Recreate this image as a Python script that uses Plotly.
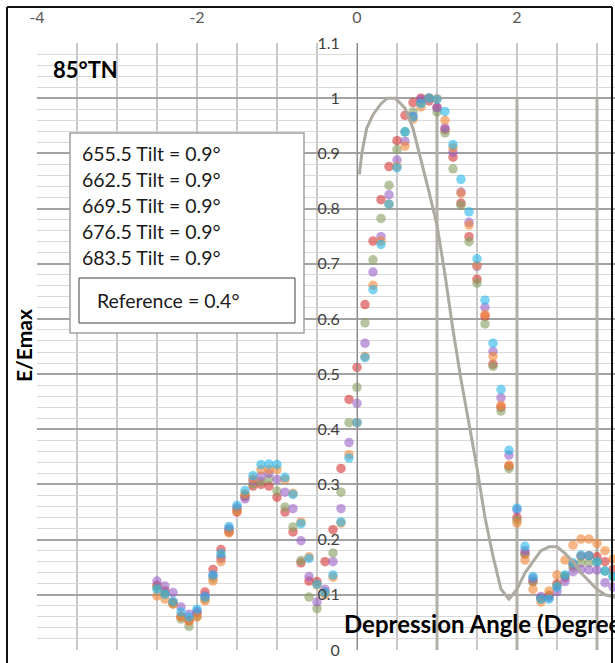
import plotly.graph_objects as go

# Depression angle (degrees) at which each tilt series was sampled
depression_deg = [-2.5, -2.4, -2.3, -2.2, -2.1, -2.0, -1.9, -1.8, -1.7, -1.6,
                  -1.5, -1.4, -1.3, -1.2, -1.1, -1.0, -0.9, -0.8, -0.7, -0.6,
                  -0.5, -0.4, -0.3, -0.2, -0.1, 0.0, 0.1, 0.2, 0.3, 0.4,
                  0.5, 0.6, 0.7, 0.8, 0.9, 1.0, 1.1, 1.2, 1.3, 1.4,
                  1.5, 1.6, 1.7, 1.8, 1.9, 2.0, 2.1, 2.2, 2.3, 2.4,
                  2.5, 2.6, 2.7, 2.8, 2.9, 3.0, 3.1, 3.2]

# Normalised field E/Emax for each frequency (tilt = 0.9 deg)
e_655 = [0.117, 0.107, 0.086, 0.061, 0.053, 0.067, 0.105, 0.146, 0.182, 0.214,
         0.250, 0.278, 0.297, 0.300, 0.297, 0.277, 0.250, 0.214, 0.158, 0.125,
         0.124, 0.160, 0.218, 0.329, 0.454, 0.512, 0.626, 0.741, 0.816, 0.876,
         0.923, 0.969, 0.992, 1.000, 0.995, 0.983, 0.943, 0.893, 0.810, 0.749,
         0.672, 0.605, 0.518, 0.440, 0.333, 0.240, 0.174, 0.124, 0.094, 0.099,
         0.120, 0.131, 0.155, 0.170, 0.171, 0.169, 0.160, 0.146]
e_662 = [0.113, 0.103, 0.084, 0.056, 0.043, 0.061, 0.092, 0.130, 0.170, 0.218,
         0.255, 0.280, 0.301, 0.305, 0.310, 0.288, 0.259, 0.223, 0.162, 0.096,
         0.075, 0.105, 0.176, 0.286, 0.412, 0.476, 0.593, 0.707, 0.782, 0.842,
         0.907, 0.939, 0.975, 0.992, 1.000, 0.975, 0.937, 0.872, 0.806, 0.740,
         0.665, 0.591, 0.514, 0.433, 0.329, 0.235, 0.174, 0.124, 0.094, 0.098,
         0.116, 0.134, 0.150, 0.158, 0.158, 0.159, 0.143, 0.133]
e_669 = [0.125, 0.116, 0.104, 0.078, 0.065, 0.070, 0.098, 0.135, 0.166, 0.220,
         0.258, 0.274, 0.307, 0.315, 0.320, 0.309, 0.286, 0.256, 0.198, 0.133,
         0.087, 0.110, 0.160, 0.256, 0.376, 0.447, 0.556, 0.685, 0.749, 0.825,
         0.888, 0.922, 0.967, 0.998, 1.000, 0.983, 0.946, 0.902, 0.830, 0.775,
         0.695, 0.621, 0.541, 0.457, 0.353, 0.254, 0.180, 0.130, 0.097, 0.095,
         0.106, 0.124, 0.142, 0.146, 0.145, 0.145, 0.122, 0.114]
e_676 = [0.098, 0.092, 0.083, 0.060, 0.052, 0.060, 0.089, 0.125, 0.160, 0.212,
         0.252, 0.283, 0.310, 0.327, 0.327, 0.327, 0.309, 0.284, 0.232, 0.169,
         0.118, 0.100, 0.132, 0.230, 0.354, 0.412, 0.532, 0.661, 0.741, 0.808,
         0.876, 0.913, 0.962, 0.984, 1.000, 0.999, 0.960, 0.910, 0.828, 0.770,
         0.697, 0.608, 0.532, 0.443, 0.335, 0.230, 0.163, 0.110, 0.087, 0.107,
         0.136, 0.163, 0.190, 0.201, 0.201, 0.193, 0.180, 0.165]
e_683 = [0.110, 0.101, 0.088, 0.069, 0.060, 0.074, 0.096, 0.136, 0.175, 0.224,
         0.262, 0.289, 0.316, 0.336, 0.337, 0.336, 0.313, 0.282, 0.229, 0.166,
         0.119, 0.104, 0.136, 0.232, 0.348, 0.412, 0.530, 0.653, 0.735, 0.808,
         0.874, 0.939, 0.966, 0.990, 1.000, 0.998, 0.976, 0.916, 0.853, 0.794,
         0.709, 0.634, 0.556, 0.472, 0.362, 0.257, 0.188, 0.133, 0.092, 0.092,
         0.114, 0.136, 0.158, 0.172, 0.171, 0.160, 0.143, 0.133]

series_names = ["655.5 Tilt = 0.9°", "662.5 Tilt = 0.9°", "669.5 Tilt = 0.9°",
                "676.5 Tilt = 0.9°", "683.5 Tilt = 0.9°"]
series_values = [e_655, e_662, e_669, e_676, e_683]
series_colors = ["#D63434", "#869E60", "#9A5FC7", "#F28633", "#24B6EA"]

# Reference pattern (tilt 0.4 deg)
ref_deg = [0.03, 0.06, 0.12, 0.2, 0.3, 0.38, 0.48, 0.6, 0.7, 0.8, 0.9, 1.0,
           1.1, 1.2, 1.3, 1.4, 1.5, 1.6, 1.7, 1.8, 1.9, 2.0, 2.1, 2.2, 2.3,
           2.4, 2.5, 2.6, 2.7, 2.8, 2.9, 3.0, 3.1, 3.25]
ref_e = [0.862, 0.900, 0.945, 0.970, 0.990, 1.000, 1.000, 0.982, 0.945, 0.890,
         0.830, 0.770, 0.680, 0.580, 0.490, 0.410, 0.330, 0.240, 0.170, 0.110,
         0.092, 0.110, 0.140, 0.160, 0.180, 0.187, 0.187, 0.175, 0.160, 0.140,
         0.125, 0.110, 0.100, 0.095]
ref_name = "Reference = 0.4°"
ref_grid_deg = [1, 2, 3]

x_tick_vals = [-4, -2, 0, 2]
x_tick_text = ["-4", "-2", "0", "2"]

title_text = "85°TN"
x_title = "Depression Angle (Degrees)"
y_title = "E/Emax"

X_MIN, X_MAX = -4.0, 3.225
Y_MIN, Y_MAX = 0.0, 1.1

W, H = 615, 663
L, R, T, B = 37, 615, 43, 650      # plot area in page pixels
FONT = "Lato"


def px(xp):
    return (xp - L) / (R - L)


def py(yp):
    return (B - yp) / (B - T)


fig = go.Figure()

for name, vals, col in zip(series_names, series_values, series_colors):
    fig.add_trace(go.Scatter(
        x=depression_deg, y=vals, mode="markers", name=name,
        marker=dict(size=9.5, color=col, opacity=0.6, line=dict(width=0)),
        showlegend=False))

fig.add_trace(go.Scatter(
    x=ref_deg, y=ref_e, mode="lines", name=ref_name,
    line=dict(color="#ADAAA1", width=3), showlegend=False))

shapes = []
# heavier grid of the reference pattern
for gx in ref_grid_deg:
    shapes.append(dict(type="line", xref="x", yref="y", x0=gx, x1=gx, y0=0, y1=1.0,
                       line=dict(color="#B3B0A8", width=3), layer="between"))

# white label box behind the title tag
shapes.append(dict(type="rect", xref="paper", yref="paper",
                   x0=px(38), x1=px(133), y0=py(89), y1=py(47),
                   fillcolor="white", line=dict(width=0), layer="between"))

# legend panel
shapes.append(dict(type="rect", xref="paper", yref="paper",
                   x0=px(70), x1=px(304), y0=py(333), y1=py(133),
                   fillcolor="white", line=dict(color="#A0A0A0", width=1.5),
                   layer="above"))
shapes.append(dict(type="rect", xref="paper", yref="paper",
                   x0=px(79), x1=px(295), y0=py(323), y1=py(278),
                   fillcolor="white", line=dict(color="#404040", width=1),
                   layer="above"))

# outer frame
frame = dict(color="#111111", width=2)
shapes.append(dict(type="line", xref="paper", yref="paper",
                   x0=px(7), x1=px(7), y0=py(7), y1=py(670), line=frame, layer="above"))
shapes.append(dict(type="line", xref="paper", yref="paper",
                   x0=px(7), x1=px(612), y0=py(7), y1=py(7), line=frame, layer="above"))
shapes.append(dict(type="line", xref="paper", yref="paper",
                   x0=px(612), x1=px(612), y0=py(7), y1=py(670), line=frame, layer="above"))

annotations = []
annotations.append(dict(text=f"<b>{title_text}</b>", xref="paper", yref="paper",
                        x=px(51), y=py(69), xanchor="left", yanchor="middle",
                        showarrow=False, font=dict(family=FONT, size=22, color="#000000")))

line_y = [153, 179, 205, 231, 257]
for name, yp in zip(series_names, line_y):
    annotations.append(dict(text=name, xref="paper", yref="paper",
                            x=px(80), y=py(yp), xanchor="left", yanchor="middle",
                            showarrow=False,
                            font=dict(family=FONT, size=19.5, color="#1A1A1A")))
annotations.append(dict(text=ref_name, xref="paper", yref="paper",
                        x=px(95), y=py(300), xanchor="left", yanchor="middle",
                        showarrow=False,
                        font=dict(family=FONT, size=19.5, color="#1A1A1A")))

annotations.append(dict(text=f"<b>{y_title}</b>", xref="paper", yref="paper",
                        x=px(23), y=py(346), xanchor="center", yanchor="middle",
                        textangle=-90, showarrow=False,
                        font=dict(family=FONT, size=21, color="#000000")))
annotations.append(dict(text=f"<b>{x_title}</b>", xref="paper", yref="paper",
                        x=px(342), y=py(623), xanchor="left", yanchor="middle",
                        showarrow=False,
                        font=dict(family=FONT, size=24, color="#000000")))

fig.update_layout(
    width=W, height=H, autosize=False,
    margin=dict(l=L, r=W - R, t=T, b=H - B, pad=0),
    paper_bgcolor="white", plot_bgcolor="white",
    font=dict(family=FONT),
    shapes=shapes, annotations=annotations,
    xaxis=dict(range=[X_MIN, X_MAX], side="top",
               tickmode="array", tickvals=x_tick_vals, ticktext=x_tick_text,
               showgrid=True, gridcolor="#C8C8C8", gridwidth=1.5,
               minor=dict(dtick=0.5, tick0=-4, showgrid=True,
                          gridcolor="#C8C8C8", gridwidth=1.5),
               zeroline=False, showline=False, ticks="",
               ticklabelstandoff=16,
               tickfont=dict(family=FONT, size=16, color="#595959")),
    yaxis=dict(range=[Y_MIN, Y_MAX], tick0=0, dtick=0.1,
               anchor="free", position=(0 - X_MIN) / (X_MAX - X_MIN),
               showgrid=True, gridcolor="#A3A3A3", gridwidth=2,
               minor=dict(dtick=0.02, tick0=0, showgrid=True,
                          gridcolor="#D9D9D9", gridwidth=1),
               zeroline=False, showline=True, linecolor="#8C8C8C", linewidth=1,
               ticks="", ticklabelstandoff=14,
               tickfont=dict(family=FONT, size=16, color="#404040")),
)

fig.write_html("out.html")
